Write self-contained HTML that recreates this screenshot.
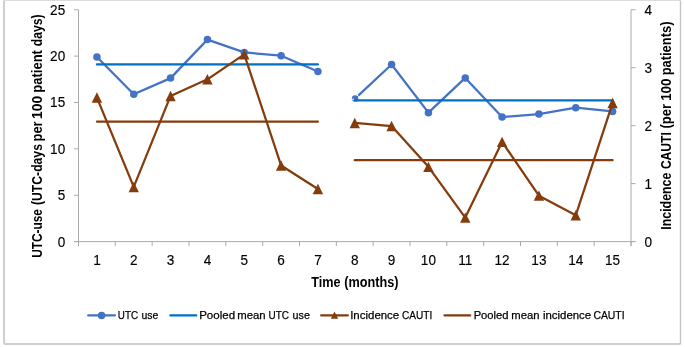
<!DOCTYPE html>
<html><head><meta charset="utf-8"><style>
html,body{margin:0;padding:0;background:#fff;width:685px;height:347px;overflow:hidden}
svg{display:block;will-change:transform}
</style></head><body>
<svg width="685" height="347" viewBox="0 0 685 347"><path d="M4,0.5 L4,342.5 Q4,344 5.5,344 L680,344" fill="none" stroke="#CFCFCF" stroke-width="2"/>
<path d="M680.5,0 L680.5,344.5" fill="none" stroke="#C4C4C4" stroke-width="1.4"/>
<line x1="4" y1="0.4" x2="681" y2="0.4" stroke="#DCDCDC" stroke-width="1.2"/>
<line x1="78.5" y1="9.75" x2="78.5" y2="246.1" stroke="#AAAAAA" stroke-width="1"/>
<line x1="631.0" y1="9.75" x2="631.0" y2="246.1" stroke="#AAAAAA" stroke-width="1"/>
<line x1="74.0" y1="241.6" x2="635.5" y2="241.6" stroke="#AAAAAA" stroke-width="1"/>
<line x1="74.0" y1="241.60" x2="78.5" y2="241.60" stroke="#AAAAAA" stroke-width="1"/>
<line x1="74.0" y1="195.23" x2="78.5" y2="195.23" stroke="#AAAAAA" stroke-width="1"/>
<line x1="74.0" y1="148.86" x2="78.5" y2="148.86" stroke="#AAAAAA" stroke-width="1"/>
<line x1="74.0" y1="102.49" x2="78.5" y2="102.49" stroke="#AAAAAA" stroke-width="1"/>
<line x1="74.0" y1="56.12" x2="78.5" y2="56.12" stroke="#AAAAAA" stroke-width="1"/>
<line x1="74.0" y1="9.75" x2="78.5" y2="9.75" stroke="#AAAAAA" stroke-width="1"/>
<line x1="631.0" y1="241.60" x2="635.5" y2="241.60" stroke="#AAAAAA" stroke-width="1"/>
<line x1="631.0" y1="183.64" x2="635.5" y2="183.64" stroke="#AAAAAA" stroke-width="1"/>
<line x1="631.0" y1="125.67" x2="635.5" y2="125.67" stroke="#AAAAAA" stroke-width="1"/>
<line x1="631.0" y1="67.71" x2="635.5" y2="67.71" stroke="#AAAAAA" stroke-width="1"/>
<line x1="631.0" y1="9.75" x2="635.5" y2="9.75" stroke="#AAAAAA" stroke-width="1"/>
<line x1="78.50" y1="241.6" x2="78.50" y2="246.1" stroke="#AAAAAA" stroke-width="1"/>
<line x1="115.33" y1="241.6" x2="115.33" y2="246.1" stroke="#AAAAAA" stroke-width="1"/>
<line x1="152.17" y1="241.6" x2="152.17" y2="246.1" stroke="#AAAAAA" stroke-width="1"/>
<line x1="189.00" y1="241.6" x2="189.00" y2="246.1" stroke="#AAAAAA" stroke-width="1"/>
<line x1="225.83" y1="241.6" x2="225.83" y2="246.1" stroke="#AAAAAA" stroke-width="1"/>
<line x1="262.67" y1="241.6" x2="262.67" y2="246.1" stroke="#AAAAAA" stroke-width="1"/>
<line x1="299.50" y1="241.6" x2="299.50" y2="246.1" stroke="#AAAAAA" stroke-width="1"/>
<line x1="336.33" y1="241.6" x2="336.33" y2="246.1" stroke="#AAAAAA" stroke-width="1"/>
<line x1="373.17" y1="241.6" x2="373.17" y2="246.1" stroke="#AAAAAA" stroke-width="1"/>
<line x1="410.00" y1="241.6" x2="410.00" y2="246.1" stroke="#AAAAAA" stroke-width="1"/>
<line x1="446.83" y1="241.6" x2="446.83" y2="246.1" stroke="#AAAAAA" stroke-width="1"/>
<line x1="483.67" y1="241.6" x2="483.67" y2="246.1" stroke="#AAAAAA" stroke-width="1"/>
<line x1="520.50" y1="241.6" x2="520.50" y2="246.1" stroke="#AAAAAA" stroke-width="1"/>
<line x1="557.33" y1="241.6" x2="557.33" y2="246.1" stroke="#AAAAAA" stroke-width="1"/>
<line x1="594.17" y1="241.6" x2="594.17" y2="246.1" stroke="#AAAAAA" stroke-width="1"/>
<line x1="631.00" y1="241.6" x2="631.00" y2="246.1" stroke="#AAAAAA" stroke-width="1"/>
<g font-family='"Liberation Sans", sans-serif' font-size="14.3" fill="#000" stroke="#000" stroke-width="0.15"><text transform="translate(65.20,246.60) scale(0.95,1)" text-anchor="end">0</text><text transform="translate(65.20,200.23) scale(0.95,1)" text-anchor="end">5</text><text transform="translate(65.20,153.86) scale(0.95,1)" text-anchor="end">10</text><text transform="translate(65.20,107.49) scale(0.95,1)" text-anchor="end">15</text><text transform="translate(65.20,61.12) scale(0.95,1)" text-anchor="end">20</text><text transform="translate(65.20,14.75) scale(0.95,1)" text-anchor="end">25</text><text transform="translate(644.50,246.60) scale(0.95,1)" text-anchor="start">0</text><text transform="translate(644.50,188.64) scale(0.95,1)" text-anchor="start">1</text><text transform="translate(644.50,130.68) scale(0.95,1)" text-anchor="start">2</text><text transform="translate(644.50,72.71) scale(0.95,1)" text-anchor="start">3</text><text transform="translate(644.50,14.75) scale(0.95,1)" text-anchor="start">4</text><text transform="translate(96.92,265.10) scale(0.95,1)" text-anchor="middle">1</text><text transform="translate(133.75,265.10) scale(0.95,1)" text-anchor="middle">2</text><text transform="translate(170.58,265.10) scale(0.95,1)" text-anchor="middle">3</text><text transform="translate(207.42,265.10) scale(0.95,1)" text-anchor="middle">4</text><text transform="translate(244.25,265.10) scale(0.95,1)" text-anchor="middle">5</text><text transform="translate(281.08,265.10) scale(0.95,1)" text-anchor="middle">6</text><text transform="translate(317.92,265.10) scale(0.95,1)" text-anchor="middle">7</text><text transform="translate(354.75,265.10) scale(0.95,1)" text-anchor="middle">8</text><text transform="translate(391.58,265.10) scale(0.95,1)" text-anchor="middle">9</text><text transform="translate(428.42,265.10) scale(0.95,1)" text-anchor="middle">10</text><text transform="translate(465.25,265.10) scale(0.95,1)" text-anchor="middle">11</text><text transform="translate(502.08,265.10) scale(0.95,1)" text-anchor="middle">12</text><text transform="translate(538.92,265.10) scale(0.95,1)" text-anchor="middle">13</text><text transform="translate(575.75,265.10) scale(0.95,1)" text-anchor="middle">14</text><text transform="translate(612.58,265.10) scale(0.95,1)" text-anchor="middle">15</text></g>
<polyline points="96.92,57.05 133.75,94.33 170.58,78.10 207.42,39.61 244.25,52.41 281.08,55.66 317.92,71.51" fill="none" stroke="#4472C4" stroke-width="2.25" stroke-linejoin="round" stroke-linecap="round"/>
<polyline points="354.75,98.87 391.58,64.47 428.42,112.69 465.25,77.91 502.08,117.05 538.92,114.08 575.75,107.68 612.58,111.39" fill="none" stroke="#4472C4" stroke-width="2.25" stroke-linejoin="round" stroke-linecap="round"/>
<circle cx="96.92" cy="57.05" r="3.75" fill="#4472C4"/>
<circle cx="133.75" cy="94.33" r="3.75" fill="#4472C4"/>
<circle cx="170.58" cy="78.10" r="3.75" fill="#4472C4"/>
<circle cx="207.42" cy="39.61" r="3.75" fill="#4472C4"/>
<circle cx="244.25" cy="52.41" r="3.75" fill="#4472C4"/>
<circle cx="281.08" cy="55.66" r="3.75" fill="#4472C4"/>
<circle cx="317.92" cy="71.51" r="3.75" fill="#4472C4"/>
<circle cx="355.15" cy="98.47" r="3.3" fill="#4472C4"/>
<path d="M356.19,94.61 A4.0,4.0 0 0 1 359.13,98.82" fill="none" stroke="#fff" stroke-width="1.0"/>
<circle cx="353.15" cy="99.37" r="0.85" fill="#fff"/>
<circle cx="391.58" cy="64.47" r="3.75" fill="#4472C4"/>
<circle cx="428.42" cy="112.69" r="3.75" fill="#4472C4"/>
<circle cx="465.25" cy="77.91" r="3.75" fill="#4472C4"/>
<circle cx="502.08" cy="117.05" r="3.75" fill="#4472C4"/>
<circle cx="538.92" cy="114.08" r="3.75" fill="#4472C4"/>
<circle cx="575.75" cy="107.68" r="3.75" fill="#4472C4"/>
<circle cx="612.58" cy="111.39" r="3.75" fill="#4472C4"/>
<polyline points="96.92,64.47 317.92,64.47" fill="none" stroke="#0070C0" stroke-width="2.25" stroke-linejoin="round" stroke-linecap="round"/>
<polyline points="354.75,100.36 612.58,100.36" fill="none" stroke="#0070C0" stroke-width="2.25" stroke-linejoin="round" stroke-linecap="round"/>
<polyline points="96.92,97.56 133.75,186.94 170.58,95.94 207.42,79.31 244.25,54.38 281.08,165.44 317.92,189.03" fill="none" stroke="#843C0C" stroke-width="2.25" stroke-linejoin="round" stroke-linecap="round"/>
<polyline points="354.75,122.95 391.58,126.02 428.42,166.83 465.25,217.60 502.08,141.90 538.92,195.64 575.75,215.29 612.58,103.07" fill="none" stroke="#843C0C" stroke-width="2.25" stroke-linejoin="round" stroke-linecap="round"/>
<path d="M96.92,92.36 L102.12,102.76 L91.72,102.76 Z" fill="#843C0C"/>
<path d="M133.75,181.74 L138.95,192.14 L128.55,192.14 Z" fill="#843C0C"/>
<path d="M170.58,90.74 L175.78,101.14 L165.38,101.14 Z" fill="#843C0C"/>
<path d="M207.42,74.11 L212.62,84.51 L202.22,84.51 Z" fill="#843C0C"/>
<path d="M244.25,49.18 L249.45,59.58 L239.05,59.58 Z" fill="#843C0C"/>
<path d="M281.08,160.24 L286.28,170.64 L275.88,170.64 Z" fill="#843C0C"/>
<path d="M317.92,183.83 L323.12,194.23 L312.72,194.23 Z" fill="#843C0C"/>
<path d="M354.75,117.75 L359.95,128.15 L349.55,128.15 Z" fill="#843C0C"/>
<path d="M391.58,120.82 L396.78,131.22 L386.38,131.22 Z" fill="#843C0C"/>
<path d="M428.42,161.63 L433.62,172.03 L423.22,172.03 Z" fill="#843C0C"/>
<path d="M465.25,212.40 L470.45,222.80 L460.05,222.80 Z" fill="#843C0C"/>
<path d="M502.08,136.70 L507.28,147.10 L496.88,147.10 Z" fill="#843C0C"/>
<path d="M538.92,190.44 L544.12,200.84 L533.72,200.84 Z" fill="#843C0C"/>
<path d="M575.75,210.09 L580.95,220.49 L570.55,220.49 Z" fill="#843C0C"/>
<path d="M612.58,97.87 L617.78,108.27 L607.38,108.27 Z" fill="#843C0C"/>
<polyline points="96.92,121.62 317.92,121.62" fill="none" stroke="#843C0C" stroke-width="2.25" stroke-linejoin="round" stroke-linecap="round"/>
<polyline points="354.75,160.22 612.58,160.22" fill="none" stroke="#843C0C" stroke-width="2.25" stroke-linejoin="round" stroke-linecap="round"/>
<polyline points="88.20,315.40 114.90,315.40" fill="none" stroke="#4472C4" stroke-width="2.25" stroke-linejoin="round" stroke-linecap="round"/>
<circle cx="101.6" cy="315.4" r="3.75" fill="#4472C4"/>
<polyline points="170.40,315.40 196.20,315.40" fill="none" stroke="#0070C0" stroke-width="2.25" stroke-linejoin="round" stroke-linecap="round"/>
<polyline points="321.20,315.40 347.80,315.40" fill="none" stroke="#843C0C" stroke-width="2.25" stroke-linejoin="round" stroke-linecap="round"/>
<path d="M334.50,311.60 L338.20,318.80 L330.80,318.80 Z" fill="#843C0C"/>
<polyline points="444.50,315.40 470.20,315.40" fill="none" stroke="#843C0C" stroke-width="2.25" stroke-linejoin="round" stroke-linecap="round"/>
<g fill="#000"><text transform="translate(42.20,257.80) rotate(-90)" font-family='"Liberation Sans", sans-serif' font-size="13.9" font-weight="bold" textLength="48.77" lengthAdjust="spacingAndGlyphs">UTC-use</text><text transform="translate(42.20,205.00) rotate(-90)" font-family='"Liberation Sans", sans-serif' font-size="13.9" font-weight="bold" textLength="60.92" lengthAdjust="spacingAndGlyphs">(UTC-days</text><text transform="translate(42.20,141.45) rotate(-90)" font-family='"Liberation Sans", sans-serif' font-size="13.9" font-weight="bold" textLength="20.09" lengthAdjust="spacingAndGlyphs">per</text><text transform="translate(42.20,118.95) rotate(-90)" font-family='"Liberation Sans", sans-serif' font-size="13.9" font-weight="bold" textLength="23.12" lengthAdjust="spacingAndGlyphs">100</text><text transform="translate(42.20,92.65) rotate(-90)" font-family='"Liberation Sans", sans-serif' font-size="13.9" font-weight="bold" textLength="42.57" lengthAdjust="spacingAndGlyphs">patient</text><text transform="translate(42.20,46.20) rotate(-90)" font-family='"Liberation Sans", sans-serif' font-size="13.9" font-weight="bold" textLength="31.73" lengthAdjust="spacingAndGlyphs">days)</text><text transform="translate(670.60,229.65) rotate(-90)" font-family='"Liberation Sans", sans-serif' font-size="13.9" font-weight="bold" textLength="56.92" lengthAdjust="spacingAndGlyphs">Incidence</text><text transform="translate(670.60,169.10) rotate(-90)" font-family='"Liberation Sans", sans-serif' font-size="13.9" font-weight="bold" textLength="36.89" lengthAdjust="spacingAndGlyphs">CAUTI</text><text transform="translate(670.60,128.50) rotate(-90)" font-family='"Liberation Sans", sans-serif' font-size="13.9" font-weight="bold" textLength="24.51" lengthAdjust="spacingAndGlyphs">(per</text><text transform="translate(670.60,100.85) rotate(-90)" font-family='"Liberation Sans", sans-serif' font-size="13.9" font-weight="bold" textLength="22.42" lengthAdjust="spacingAndGlyphs">100</text><text transform="translate(670.60,75.35) rotate(-90)" font-family='"Liberation Sans", sans-serif' font-size="13.9" font-weight="bold" textLength="53.79" lengthAdjust="spacingAndGlyphs">patients)</text><text x="311.20" y="286.50" font-family='"Liberation Sans", sans-serif' font-size="14.0" font-weight="bold" textLength="29.26" lengthAdjust="spacingAndGlyphs">Time</text><text x="344.30" y="286.50" font-family='"Liberation Sans", sans-serif' font-size="14.0" font-weight="bold" textLength="54.22" lengthAdjust="spacingAndGlyphs">(months)</text></g><g fill="#000" stroke="#000" stroke-width="0.25"><text x="117.85" y="319.00" font-family='"Liberation Sans", sans-serif' font-size="11.7" font-weight="normal" textLength="20.24" lengthAdjust="spacingAndGlyphs">UTC</text><text x="141.50" y="319.00" font-family='"Liberation Sans", sans-serif' font-size="11.7" font-weight="normal" textLength="16.89" lengthAdjust="spacingAndGlyphs">use</text><text x="199.15" y="319.00" font-family='"Liberation Sans", sans-serif' font-size="11.7" font-weight="normal" textLength="35.91" lengthAdjust="spacingAndGlyphs">Pooled</text><text x="237.25" y="319.00" font-family='"Liberation Sans", sans-serif' font-size="11.7" font-weight="normal" textLength="28.42" lengthAdjust="spacingAndGlyphs">mean</text><text x="268.55" y="319.00" font-family='"Liberation Sans", sans-serif' font-size="11.7" font-weight="normal" textLength="20.47" lengthAdjust="spacingAndGlyphs">UTC</text><text x="292.60" y="319.00" font-family='"Liberation Sans", sans-serif' font-size="11.7" font-weight="normal" textLength="17.37" lengthAdjust="spacingAndGlyphs">use</text><text x="350.20" y="319.00" font-family='"Liberation Sans", sans-serif' font-size="11.7" font-weight="normal" textLength="49.04" lengthAdjust="spacingAndGlyphs">Incidence</text><text x="402.10" y="319.00" font-family='"Liberation Sans", sans-serif' font-size="11.7" font-weight="normal" textLength="30.20" lengthAdjust="spacingAndGlyphs">CAUTI</text><text x="473.65" y="319.00" font-family='"Liberation Sans", sans-serif' font-size="11.7" font-weight="normal" textLength="34.90" lengthAdjust="spacingAndGlyphs">Pooled</text><text x="511.25" y="319.00" font-family='"Liberation Sans", sans-serif' font-size="11.7" font-weight="normal" textLength="28.22" lengthAdjust="spacingAndGlyphs">mean</text><text x="542.95" y="319.00" font-family='"Liberation Sans", sans-serif' font-size="11.7" font-weight="normal" textLength="48.18" lengthAdjust="spacingAndGlyphs">incidence</text><text x="593.40" y="319.00" font-family='"Liberation Sans", sans-serif' font-size="11.7" font-weight="normal" textLength="31.20" lengthAdjust="spacingAndGlyphs">CAUTI</text></g></svg>
</body></html>
